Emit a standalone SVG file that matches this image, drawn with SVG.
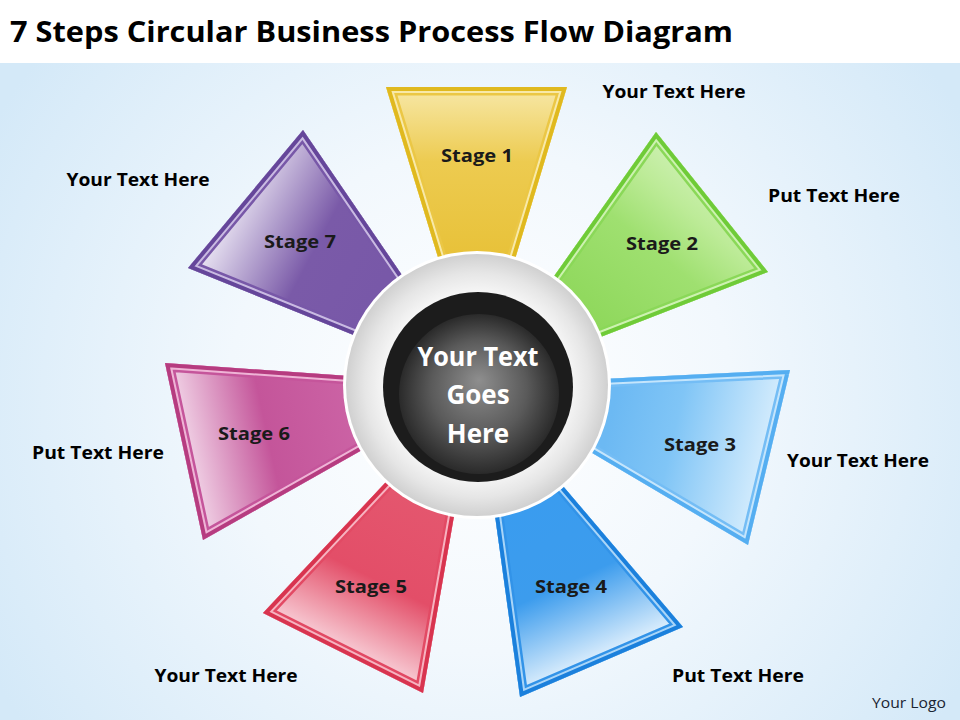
<svg xmlns="http://www.w3.org/2000/svg" xmlns:xlink="http://www.w3.org/1999/xlink" width="960" height="720" viewBox="0 0 960 720">
<style>
.title{font-family:"Open Sans","Liberation Sans",sans-serif;font-weight:700;font-size:29px;fill:#000}
.stg{font-family:"Open Sans","Liberation Sans",sans-serif;font-weight:700;font-size:18px;fill:#1a1a1a;text-anchor:middle}
.lbl{font-family:"Open Sans","Liberation Sans",sans-serif;font-weight:700;font-size:18px;fill:#000;text-anchor:middle}
.ctr{font-family:"Open Sans","Liberation Sans",sans-serif;font-weight:700;font-size:26px;fill:#fff;text-anchor:middle}
.logo{font-family:"Open Sans","Liberation Sans",sans-serif;font-size:15px;fill:#1a2533;text-anchor:middle}
.nf{fill:none;stroke-linejoin:miter;stroke-miterlimit:20}
</style>
<defs>
<radialGradient id="bg" cx="480" cy="400" r="560" gradientUnits="userSpaceOnUse">
<stop offset="0" stop-color="#ffffff"/><stop offset="0.45" stop-color="#f2f8fd"/><stop offset="1" stop-color="#d4e9f8"/>
</radialGradient>
<polygon id="p1" points="477,385 386,87 567,87"/>
<polygon id="p2" points="477,385 656,132 768,272"/>
<polygon id="p3" points="477,385 790,370 748,545"/>
<polygon id="p4" points="477,385 683,627 520,697"/>
<polygon id="p5" points="477,385 263,613 423,693"/>
<polygon id="p6" points="477,385 165,363 203,540"/>
<polygon id="p7" points="477,385 188,268 303,130"/>
<clipPath id="c1"><use xlink:href="#p1"/></clipPath>
<clipPath id="c2"><use xlink:href="#p2"/></clipPath>
<clipPath id="c3"><use xlink:href="#p3"/></clipPath>
<clipPath id="c4"><use xlink:href="#p4"/></clipPath>
<clipPath id="c5"><use xlink:href="#p5"/></clipPath>
<clipPath id="c6"><use xlink:href="#p6"/></clipPath>
<clipPath id="c7"><use xlink:href="#p7"/></clipPath>
<linearGradient id="g1" gradientUnits="userSpaceOnUse" x1="477" y1="253" x2="477" y2="87">
<stop offset="0" stop-color="#e8c23a"/><stop offset="0.55" stop-color="#edcb50"/><stop offset="1" stop-color="#f7e8a8"/>
</linearGradient>
<linearGradient id="g2" gradientUnits="userSpaceOnUse" x1="580" y1="310" x2="712" y2="150">
<stop offset="0" stop-color="#8fd85c"/><stop offset="0.45" stop-color="#9fe070"/><stop offset="0.7" stop-color="#bdeb98"/><stop offset="1" stop-color="#d6f4c0"/>
</linearGradient>
<linearGradient id="g3" gradientUnits="userSpaceOnUse" x1="610" y1="420" x2="769" y2="457">
<stop offset="0" stop-color="#6cb9f3"/><stop offset="0.4" stop-color="#80c5f6"/><stop offset="1" stop-color="#d6edfd"/>
</linearGradient>
<linearGradient id="g4" gradientUnits="userSpaceOnUse" x1="530" y1="505" x2="601" y2="662">
<stop offset="0" stop-color="#3a9cef"/><stop offset="0.5" stop-color="#3c9ced"/><stop offset="1" stop-color="#e4f2fd"/>
</linearGradient>
<linearGradient id="g5" gradientUnits="userSpaceOnUse" x1="420" y1="505" x2="343" y2="660">
<stop offset="0" stop-color="#e4566e"/><stop offset="0.5" stop-color="#e34e68"/><stop offset="1" stop-color="#fadce3"/>
</linearGradient>
<linearGradient id="g6" gradientUnits="userSpaceOnUse" x1="350" y1="415" x2="184" y2="451">
<stop offset="0" stop-color="#cb62a4"/><stop offset="0.5" stop-color="#c4559a"/><stop offset="1" stop-color="#f2d6e8"/>
</linearGradient>
<linearGradient id="g7" gradientUnits="userSpaceOnUse" x1="380" y1="290" x2="230" y2="210">
<stop offset="0" stop-color="#7858a8"/><stop offset="0.45" stop-color="#7a5aa8"/><stop offset="1" stop-color="#e6e0f0"/>
</linearGradient>
<radialGradient id="ring" cx="477" cy="385" r="132" gradientUnits="userSpaceOnUse">
<stop offset="0.7" stop-color="#f6f6f6"/><stop offset="0.85" stop-color="#e6e6e6"/><stop offset="1" stop-color="#cfcfcf"/>
</radialGradient>
<radialGradient id="core" cx="479" cy="394" r="80" fx="479" fy="380" gradientUnits="userSpaceOnUse">
<stop offset="0" stop-color="#8e8e8e"/><stop offset="0.6" stop-color="#5a5a5a"/><stop offset="1" stop-color="#2a2a2a"/>
</radialGradient>
</defs>

<rect x="0" y="0" width="960" height="720" fill="#ffffff"/>
<rect x="0" y="63" width="960" height="657" fill="url(#bg)"/>
<text class="title" x="10" y="42" textLength="723" lengthAdjust="spacingAndGlyphs">7 Steps Circular Business Process Flow Diagram</text>

<g id="stage1">
<g clip-path="url(#c1)">
<use xlink:href="#p1" fill="url(#g1)"/>
<use xlink:href="#p1" class="nf" stroke="#ebc745" stroke-width="17"/>
<use xlink:href="#p1" class="nf" stroke="#f8e9a8" stroke-width="12"/>
<use xlink:href="#p1" class="nf" stroke="#e0b91f" stroke-width="8"/>
</g>
<text class="stg" x="477" y="162" textLength="72" lengthAdjust="spacingAndGlyphs">Stage 1</text>
</g>

<g id="stage2">
<g clip-path="url(#c2)">
<use xlink:href="#p2" fill="url(#g2)"/>
<use xlink:href="#p2" class="nf" stroke="#8ad858" stroke-width="17"/>
<use xlink:href="#p2" class="nf" stroke="#cdf2b0" stroke-width="12"/>
<use xlink:href="#p2" class="nf" stroke="#6fcb38" stroke-width="8"/>
</g>
<text class="stg" x="662" y="250" textLength="72" lengthAdjust="spacingAndGlyphs">Stage 2</text>
</g>

<g id="stage3">
<g clip-path="url(#c3)">
<use xlink:href="#p3" fill="url(#g3)"/>
<use xlink:href="#p3" class="nf" stroke="#74bdf5" stroke-width="17"/>
<use xlink:href="#p3" class="nf" stroke="#c4e5fc" stroke-width="12"/>
<use xlink:href="#p3" class="nf" stroke="#55aef1" stroke-width="8"/>
</g>
<text class="stg" x="700" y="451" textLength="72" lengthAdjust="spacingAndGlyphs">Stage 3</text>
</g>

<g id="stage4">
<g clip-path="url(#c4)">
<use xlink:href="#p4" fill="url(#g4)"/>
<use xlink:href="#p4" class="nf" stroke="#3293e8" stroke-width="17"/>
<use xlink:href="#p4" class="nf" stroke="#a9d5f8" stroke-width="12"/>
<use xlink:href="#p4" class="nf" stroke="#1b80dc" stroke-width="8"/>
</g>
<text class="stg" x="571" y="593" textLength="72" lengthAdjust="spacingAndGlyphs">Stage 4</text>
</g>

<g id="stage5">
<g clip-path="url(#c5)">
<use xlink:href="#p5" fill="url(#g5)"/>
<use xlink:href="#p5" class="nf" stroke="#e24a64" stroke-width="17"/>
<use xlink:href="#p5" class="nf" stroke="#f7b3c0" stroke-width="12"/>
<use xlink:href="#p5" class="nf" stroke="#d8344f" stroke-width="8"/>
</g>
<text class="stg" x="371" y="593" textLength="72" lengthAdjust="spacingAndGlyphs">Stage 5</text>
</g>

<g id="stage6">
<g clip-path="url(#c6)">
<use xlink:href="#p6" fill="url(#g6)"/>
<use xlink:href="#p6" class="nf" stroke="#c5559b" stroke-width="17"/>
<use xlink:href="#p6" class="nf" stroke="#efb4d6" stroke-width="12"/>
<use xlink:href="#p6" class="nf" stroke="#b63c80" stroke-width="8"/>
</g>
<text class="stg" x="254" y="440" textLength="72" lengthAdjust="spacingAndGlyphs">Stage 6</text>
</g>

<g id="stage7">
<g clip-path="url(#c7)">
<use xlink:href="#p7" fill="url(#g7)"/>
<use xlink:href="#p7" class="nf" stroke="#7858a8" stroke-width="17"/>
<use xlink:href="#p7" class="nf" stroke="#c9bae2" stroke-width="12"/>
<use xlink:href="#p7" class="nf" stroke="#65469a" stroke-width="8"/>
</g>
<text class="stg" x="300" y="248" textLength="72" lengthAdjust="spacingAndGlyphs">Stage 7</text>
</g>

<g id="hub">
<circle cx="477" cy="385" r="134" fill="#ffffff"/>
<circle cx="477" cy="385" r="131" fill="url(#ring)"/>
<circle cx="478" cy="387" r="95" fill="#1c1c1c"/>
<circle cx="479" cy="394" r="80" fill="url(#core)"/>
<text class="ctr" x="478" y="366" textLength="121" lengthAdjust="spacingAndGlyphs">Your Text</text>
<text class="ctr" x="478" y="404">Goes</text>
<text class="ctr" x="478" y="443">Here</text>
</g>

<g id="labels">
<text class="lbl" x="674" y="98" textLength="143" lengthAdjust="spacingAndGlyphs">Your Text Here</text>
<text class="lbl" x="834" y="202" textLength="132" lengthAdjust="spacingAndGlyphs">Put Text Here</text>
<text class="lbl" x="858" y="467" textLength="142" lengthAdjust="spacingAndGlyphs">Your Text Here</text>
<text class="lbl" x="738" y="682" textLength="132" lengthAdjust="spacingAndGlyphs">Put Text Here</text>
<text class="lbl" x="226" y="682" textLength="143" lengthAdjust="spacingAndGlyphs">Your Text Here</text>
<text class="lbl" x="98" y="459" textLength="132" lengthAdjust="spacingAndGlyphs">Put Text Here</text>
<text class="lbl" x="138" y="186" textLength="143" lengthAdjust="spacingAndGlyphs">Your Text Here</text>
<text class="logo" x="909" y="708" textLength="74" lengthAdjust="spacingAndGlyphs">Your Logo</text>
</g>

<g id="connectors"/>
</svg>
